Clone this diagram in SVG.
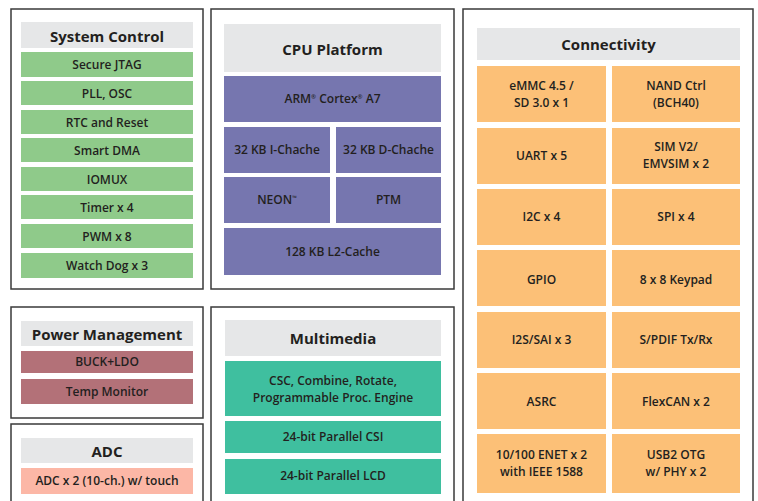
<svg xmlns="http://www.w3.org/2000/svg" width="758" height="501" viewBox="0 0 758 501">
<style>
.frame{fill:#fff;stroke:#3a3a3a;stroke-width:1.5}
.hdr{fill:#e6e7e8}
.g{fill:#8fca8a}
.p{fill:#7676af}
.o{fill:#fcc077}
.m{fill:#b37178}
.s{fill:#fcb7a6}
.t{fill:#3fbf9f}
text{font-family:"Open Sans","Liberation Sans",sans-serif;fill:#231f20;text-anchor:middle}
.h{font-size:15px;font-weight:700}
.l{font-size:12px;font-weight:600}
.sup{font-size:6px}
</style>
<rect width="758" height="501" fill="#fff"/>

<g id="system-control">
<rect class="frame" x="11" y="9" width="192" height="280"/>
<rect class="hdr" x="21" y="22" width="172" height="26"/>
<text class="h" x="107" y="42">System Control</text>
<rect class="g" x="21" y="52" width="172" height="25"/><text class="l" x="107" y="69">Secure JTAG</text>
<rect class="g" x="21" y="81" width="172" height="24"/><text class="l" x="107" y="97.5">PLL, OSC</text>
<rect class="g" x="21" y="110" width="172" height="24"/><text class="l" x="107" y="126.5">RTC and Reset</text>
<rect class="g" x="21" y="138" width="172" height="24"/><text class="l" x="107" y="154.5">Smart DMA</text>
<rect class="g" x="21" y="167" width="172" height="24"/><text class="l" x="107" y="183.5">IOMUX</text>
<rect class="g" x="21" y="195" width="172" height="24"/><text class="l" x="107" y="211.5">Timer x 4</text>
<rect class="g" x="21" y="224" width="172" height="24"/><text class="l" x="107" y="240.5">PWM x 8</text>
<rect class="g" x="21" y="253" width="172" height="25"/><text class="l" x="107" y="269.5">Watch Dog x 3</text>
</g>

<g id="cpu-platform">
<rect class="frame" x="211" y="9" width="243" height="280"/>
<rect class="hdr" x="224" y="24" width="217" height="48"/>
<text class="h" x="332.5" y="55">CPU Platform</text>
<rect class="p" x="224" y="76" width="217" height="46"/>
<text class="l" x="332.5" y="103">ARM<tspan class="sup" dy="-4">®</tspan><tspan dy="4"> Cortex</tspan><tspan class="sup" dy="-4">®</tspan><tspan dy="4"> A7</tspan></text>
<rect class="p" x="224" y="127" width="106" height="46"/><text class="l" x="277" y="154">32 KB I-Chache</text>
<rect class="p" x="336" y="127" width="105" height="46"/><text class="l" x="388.5" y="154">32 KB D-Chache</text>
<rect class="p" x="224" y="177" width="106" height="46"/><text class="l" x="277" y="204">NEON<tspan class="sup" dy="-4">™</tspan></text>
<rect class="p" x="336" y="177" width="105" height="46"/><text class="l" x="388.5" y="204">PTM</text>
<rect class="p" x="224" y="228" width="217" height="47"/><text class="l" x="332.5" y="255.5">128 KB L2-Cache</text>
</g>

<g id="connectivity">
<rect class="frame" x="463" y="9" width="290" height="500"/>
<rect class="hdr" x="477" y="28" width="263" height="32"/>
<text class="h" x="608.5" y="50">Connectivity</text>
<rect class="o" x="477" y="66" width="129" height="56"/><text class="l" x="541.5" y="90">eMMC 4.5 /<tspan x="541.5" dy="16.5">SD 3.0 x 1</tspan></text>
<rect class="o" x="612" y="66" width="128" height="56"/><text class="l" x="676" y="90">NAND Ctrl<tspan x="676" dy="16.5">(BCH40)</tspan></text>
<rect class="o" x="477" y="128" width="129" height="56"/><text class="l" x="541.5" y="160">UART x 5</text>
<rect class="o" x="612" y="128" width="128" height="56"/><text class="l" x="676" y="151">SIM V2/<tspan x="676" dy="16.5">EMVSIM x 2</tspan></text>
<rect class="o" x="477" y="189" width="129" height="56"/><text class="l" x="541.5" y="221">I2C x 4</text>
<rect class="o" x="612" y="189" width="128" height="56"/><text class="l" x="676" y="221">SPI x 4</text>
<rect class="o" x="477" y="250" width="129" height="56"/><text class="l" x="541.5" y="284">GPIO</text>
<rect class="o" x="612" y="250" width="128" height="56"/><text class="l" x="676" y="284">8 x 8 Keypad</text>
<rect class="o" x="477" y="312" width="129" height="56"/><text class="l" x="541.5" y="344">I2S/SAI x 3</text>
<rect class="o" x="612" y="312" width="128" height="56"/><text class="l" x="676" y="344">S/PDIF Tx/Rx</text>
<rect class="o" x="477" y="373" width="129" height="56"/><text class="l" x="541.5" y="406">ASRC</text>
<rect class="o" x="612" y="373" width="128" height="56"/><text class="l" x="676" y="406">FlexCAN x 2</text>
<rect class="o" x="477" y="434" width="129" height="59"/><text class="l" x="541.5" y="459">10/100 ENET x 2<tspan x="541.5" dy="16.5">with IEEE 1588</tspan></text>
<rect class="o" x="612" y="434" width="128" height="59"/><text class="l" x="676" y="459">USB2 OTG<tspan x="676" dy="16.5">w/ PHY x 2</tspan></text>
</g>

<g id="power-management">
<rect class="frame" x="11" y="307" width="192" height="111"/>
<rect class="hdr" x="21" y="321" width="172" height="25"/>
<text class="h" x="107" y="340">Power Management</text>
<rect class="m" x="21" y="351" width="172" height="22"/><text class="l" x="107" y="366">BUCK+LDO</text>
<rect class="m" x="21" y="379" width="172" height="25"/><text class="l" x="107" y="396">Temp Monitor</text>
</g>

<g id="adc">
<rect class="frame" x="11" y="424" width="192" height="90"/>
<rect class="hdr" x="21" y="438" width="172" height="25"/>
<text class="h" x="107" y="457">ADC</text>
<rect class="s" x="21" y="468" width="172" height="26"/><text class="l" x="107" y="485">ADC x 2 (10-ch.) w/ touch</text>
</g>

<g id="multimedia">
<rect class="frame" x="211" y="307" width="243" height="210"/>
<rect class="hdr" x="225" y="320" width="216" height="36"/>
<text class="h" x="333" y="344">Multimedia</text>
<rect class="t" x="225" y="361" width="216" height="55"/><text class="l" x="333" y="385">CSC, Combine, Rotate,<tspan x="333" dy="16.5">Programmable Proc. Engine</tspan></text>
<rect class="t" x="225" y="421" width="216" height="32"/><text class="l" x="333" y="441">24-bit Parallel CSI</text>
<rect class="t" x="225" y="459" width="216" height="35"/><text class="l" x="333" y="480">24-bit Parallel LCD</text>
</g>

<g id="connectors"></g>
</svg>
